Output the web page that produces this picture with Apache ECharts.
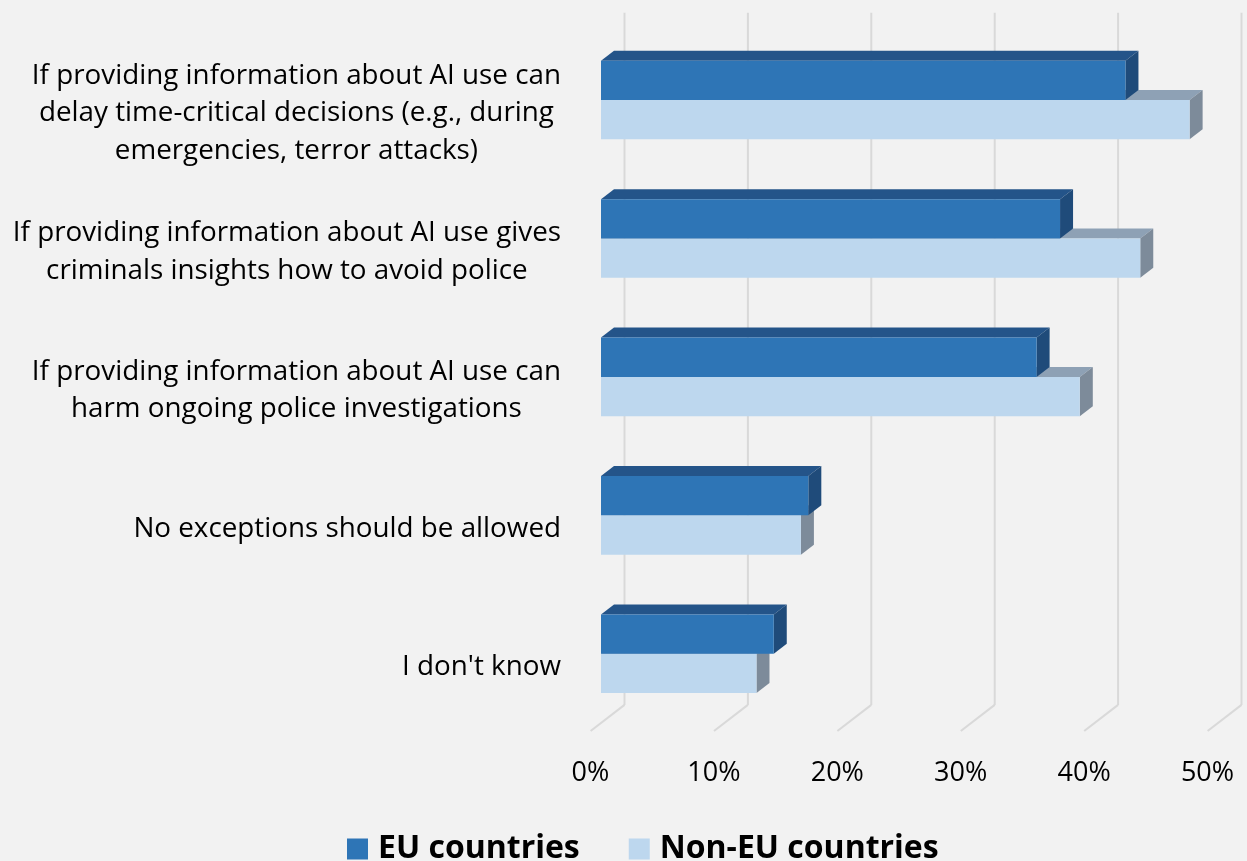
<!DOCTYPE html>
<html>
<head>
<meta charset="utf-8">
<script src="https://cdn.jsdelivr.net/npm/echarts@6/dist/echarts.min.js"></script>
<style>
  html, body { margin: 0; padding: 0; background: #f2f2f2; }
  #chart { width: 1247px; height: 861px; }
</style>
</head>
<body>
<div id="chart"></div>
<script>
// Survey answers: when may information about police AI use be withheld?
const categories = [
  'If providing information about AI use can\ndelay time-critical decisions (e.g., during\nemergencies, terror attacks)',
  'If providing information about AI use gives\ncriminals insights how to avoid police',
  'If providing information about AI use can\nharm ongoing police investigations',
  'No exceptions should be allowed',
  "I don't know"
];
const euValues = [42.5, 37.2, 35.3, 16.8, 14.0];
const nonEuValues = [47.7, 43.7, 38.8, 16.2, 12.6];
const xTicks = [0, 10, 20, 30, 40, 50];
const seriesNames = ['EU countries', 'Non-EU countries'];

const FONT = '"Open Sans", "Noto Sans", sans-serif';

// pseudo-3D depth (pixels): bar thickness, back wall and floor front
const BAR_DX = 13, BAR_DY = 10;
const WALL_DX = 23.5, WALL_DY = 18.1;
const FLOOR_DX = 10.4, FLOOR_DY = 8;
const BAR_FRACTION = 0.284;

const palette = {
  eu: { front: '#2e75b6', top: '#245489', side: '#1f4b7a' },
  nonEu: { front: '#bdd7ee', top: '#8ea1b5', side: '#7d8b9a' }
};

function wallRender(params, api) {
  const cs = params.coordSys;
  const x = api.coord([api.value(0), 0])[0];
  const bottom = cs.y + cs.height;
  const lineStyle = { stroke: '#d9d9d9', lineWidth: 2 };
  return {
    type: 'group',
    children: [
      { type: 'line', shape: { x1: x + WALL_DX, y1: cs.y - WALL_DY, x2: x + WALL_DX, y2: bottom - WALL_DY }, style: lineStyle },
      { type: 'line', shape: { x1: x + WALL_DX, y1: bottom - WALL_DY, x2: x - FLOOR_DX, y2: bottom + FLOOR_DY }, style: lineStyle }
    ]
  };
}

function barRender(colors, upper) {
  return function (params, api) {
    const cat = api.value(1);
    const end = api.coord([api.value(0), cat]);
    const x0 = api.coord([0, cat])[0];
    const x1 = end[0];
    const yc = end[1];
    const h = api.size([0, 1])[1] * BAR_FRACTION;
    const top = upper ? yc - h : yc;
    const bottom = upper ? yc : yc + h;
    return {
      type: 'group',
      children: [
        { type: 'polygon', shape: { points: [[x0, top], [x0 + BAR_DX, top - BAR_DY], [x1 + BAR_DX, top - BAR_DY], [x1, top]] }, style: { fill: colors.top } },
        { type: 'polygon', shape: { points: [[x1, top], [x1 + BAR_DX, top - BAR_DY], [x1 + BAR_DX, bottom - BAR_DY], [x1, bottom]] }, style: { fill: colors.side } },
        { type: 'rect', shape: { x: x0, y: top, width: x1 - x0, height: bottom - top }, style: { fill: colors.front } }
      ]
    };
  };
}

const chart = echarts.init(document.getElementById('chart'), null, { renderer: 'canvas' });

chart.setOption({
  backgroundColor: '#f2f2f2',
  animation: false,
  grid: { left: 601, right: 29, top: 30.8, bottom: 138 },
  legend: {
    data: seriesNames,
    left: 347,
    top: 833,
    padding: 0,
    icon: 'rect',
    itemWidth: 21,
    itemHeight: 21,
    itemGap: 49,
    textStyle: { fontFamily: FONT, fontSize: 32, fontWeight: 'bold', color: '#000', padding: [0, 0, 0, 5] }
  },
  xAxis: {
    type: 'value',
    min: 0,
    max: 50,
    interval: 10,
    axisLine: { show: false },
    axisTick: { show: false },
    splitLine: { show: false },
    axisLabel: {
      formatter: '{value}%',
      fontFamily: FONT,
      fontSize: 27,
      color: '#000',
      margin: 37,
      padding: [0, 21, 0, 0]
    }
  },
  yAxis: {
    type: 'category',
    inverse: true,
    data: categories,
    axisLine: { show: false },
    axisTick: { show: false },
    splitLine: { show: false },
    axisLabel: {
      interval: 0,
      margin: 40,
      align: 'right',
      padding: [27, 0, 0, 0],
      formatter: function (v) {
        return v.split('\n').map(function (l) { return '{c|' + l + '}'; }).join('\n');
      },
      rich: {
        c: { align: 'center', fontFamily: FONT, fontSize: 27.8, lineHeight: 37.5, color: '#000' }
      }
    }
  },
  series: [
    {
      type: 'custom',
      name: 'walls',
      silent: true,
      z: 1,
      data: xTicks.map(function (t) { return [t, 0]; }),
      encode: { x: 0, y: 1 },
      renderItem: wallRender
    },
    {
      type: 'custom',
      name: seriesNames[1],
      z: 2,
      itemStyle: { color: palette.nonEu.front },
      data: nonEuValues.map(function (v, i) { return [v, i]; }),
      encode: { x: 0, y: 1 },
      renderItem: barRender(palette.nonEu, false)
    },
    {
      type: 'custom',
      name: seriesNames[0],
      z: 3,
      itemStyle: { color: palette.eu.front },
      data: euValues.map(function (v, i) { return [v, i]; }),
      encode: { x: 0, y: 1 },
      renderItem: barRender(palette.eu, true)
    }
  ]
});
</script>
</body>
</html>
